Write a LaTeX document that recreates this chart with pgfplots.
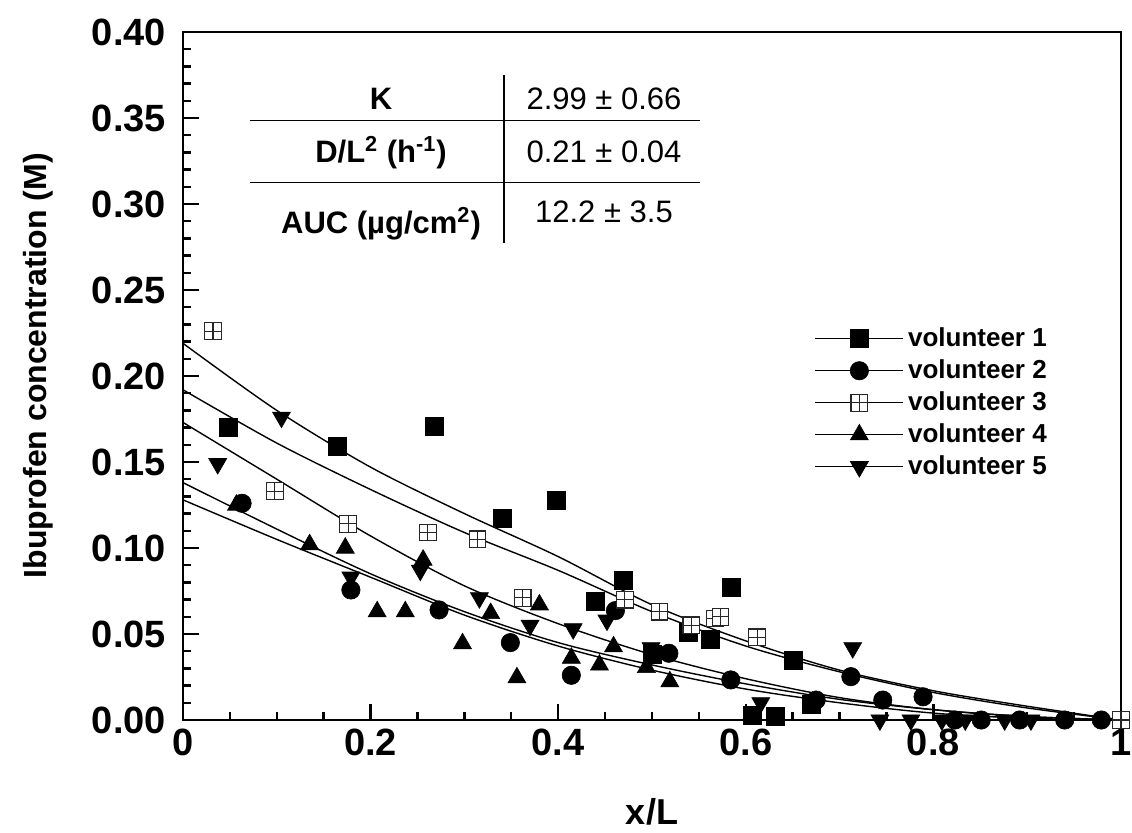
\documentclass[border=0pt]{standalone}
\usepackage{fontspec}
\setmainfont{Liberation Sans}
\usepackage{pgfplots}
\pgfplotsset{compat=1.18}

\pgfdeclareplotmark{boxplus}{%
  \pgfpathrectangle{\pgfqpoint{-\pgfplotmarksize}{-\pgfplotmarksize}}{\pgfqpoint{2\pgfplotmarksize}{2\pgfplotmarksize}}%
  \pgfusepathqfillstroke
  \pgfpathmoveto{\pgfqpoint{-\pgfplotmarksize}{0pt}}\pgfpathlineto{\pgfqpoint{\pgfplotmarksize}{0pt}}%
  \pgfpathmoveto{\pgfqpoint{0pt}{-\pgfplotmarksize}}\pgfpathlineto{\pgfqpoint{0pt}{\pgfplotmarksize}}%
  \pgfusepathqstroke
}

\pgfplotsset{
  v1/.style={only marks, mark=square*, mark size=4.5pt, mark options={black, fill=black, line width=0.3pt}},
  v2/.style={only marks, mark=*, mark size=4.6pt, mark options={black, fill=black, line width=0.3pt}},
  v3/.style={only marks, mark=boxplus, mark size=4.2pt, mark options={draw=black!85, fill=white, line width=0.55pt}},
  v4/.style={only marks, mark=triangle*, mark size=5.2pt, mark options={black, fill=black, line width=0.3pt}},
  v5/.style={only marks, mark=triangle*, mark size=5.2pt, mark options={black, fill=black, line width=0.3pt, rotate=180}},
  fit/.style={black, line width=0.7pt, smooth, no marks, forget plot},
}

\begin{document}
\begin{tikzpicture}[x=1pt,y=1pt]
\path[use as bounding box] (-91.5,-56) rectangle (474.5,360);
\begin{axis}[
  at={(0,0)}, anchor=south west,
  scale only axis, width=469pt, height=344pt,
  xmin=0, xmax=1, ymin=0, ymax=0.4,
  xtick={0,0.2,0.4,0.6,0.8,1},
  xticklabels={0,0.2,0.4,0.6,0.8,1},
  ytick={0,0.05,0.1,0.15,0.2,0.25,0.3,0.35,0.4},
  yticklabels={0.00,0.05,0.10,0.15,0.20,0.25,0.30,0.35,0.40},
  minor x tick num=3, minor y tick num=4,
  tick align=inside, xtick pos=bottom, ytick pos=left,
  major tick length=8pt, minor tick length=4pt,
  tick style={black, line width=1.2pt},
  axis line style={line width=1.4pt},
  tick label style={font=\fontsize{19}{22}\selectfont\bfseries},
  yticklabel style={xshift=-5pt},
  xticklabel style={yshift=-1pt},
  xlabel={x/L},
  xlabel style={font=\fontsize{18}{20}\selectfont\bfseries, at={(axis description cs:0.5,-0.134)}, anchor=center},
  ylabel={Ibuprofen concentration (M)},
  ylabel style={font=\fontsize{16}{18}\selectfont\bfseries, at={(axis description cs:-0.1546,0.515)}, anchor=center},
  legend style={at={(axis description cs:0.673,0.578)}, anchor=north west, draw=none, fill=none,
    inner sep=0pt, font=\fontsize{13}{15}\selectfont\bfseries,
    nodes={inner sep=2pt, text height=10pt, text depth=2pt},
    legend cell align=left},
  legend image code/.code={\draw[mark repeat=2,mark phase=2,#1] plot coordinates {(0pt,0pt) (22pt,0pt) (44pt,0pt)};},
  clip=false,
]
% fitted curves
\addplot[fit] coordinates {(0,0.219) (0.1,0.180) (0.2,0.147) (0.3,0.120) (0.4,0.095) (0.5,0.067) (0.6,0.046) (0.7,0.029) (0.8,0.017) (0.9,0.008) (1,0)};
\addplot[fit] coordinates {(0,0.192) (0.1,0.161) (0.2,0.134) (0.3,0.109) (0.4,0.087) (0.5,0.063) (0.6,0.043) (0.7,0.028) (0.8,0.016) (0.9,0.007) (1,0)};
\addplot[fit] coordinates {(0,0.173) (0.1,0.140) (0.2,0.107) (0.3,0.078) (0.4,0.056) (0.5,0.038) (0.6,0.024) (0.7,0.013) (0.8,0.006) (0.9,0.002) (1,0)};
\addplot[fit] coordinates {(0,0.138) (0.1,0.111) (0.2,0.085) (0.3,0.063) (0.4,0.045) (0.5,0.032) (0.6,0.021) (0.7,0.012) (0.8,0.006) (0.9,0.002) (1,0)};
\addplot[fit] coordinates {(0,0.128) (0.1,0.105) (0.2,0.083) (0.3,0.061) (0.4,0.043) (0.5,0.029) (0.6,0.018) (0.7,0.010) (0.8,0.004) (0.9,0.001) (1,0)};
% volunteer data
\addplot[v1, forget plot] coordinates {(0.048,0.170) (0.164,0.159) (0.268,0.171) (0.340,0.117) (0.398,0.128) (0.440,0.069) (0.469,0.081) (0.500,0.038) (0.539,0.051) (0.562,0.047) (0.585,0.077) (0.607,0.003) (0.631,0.002) (0.651,0.035) (0.670,0.009)};
\addplot[v2, forget plot] coordinates {(0.063,0.126) (0.179,0.0756) (0.273,0.064) (0.349,0.045) (0.414,0.026) (0.461,0.0636) (0.518,0.0388) (0.584,0.0233) (0.675,0.0116) (0.712,0.0252) (0.746,0.0116) (0.789,0.0135) (0.823,0) (0.851,0) (0.892,0) (0.940,0) (0.979,0)};
\addplot[v3, forget plot] coordinates {(0.032,0.226) (0.098,0.133) (0.176,0.114) (0.261,0.109) (0.314,0.105) (0.362,0.071) (0.471,0.070) (0.508,0.063) (0.542,0.055) (0.567,0.059) (0.573,0.060) (0.612,0.048) (1.0,0)};
\addplot[v4, forget plot] coordinates {(0.057,0.125) (0.135,0.102) (0.173,0.100) (0.207,0.063) (0.237,0.063) (0.256,0.093) (0.298,0.0444) (0.328,0.062) (0.356,0.0246) (0.380,0.067) (0.414,0.036) (0.444,0.032) (0.459,0.0426) (0.494,0.0306) (0.519,0.0223)};
\addplot[v5, forget plot] coordinates {(0.037,0.149) (0.105,0.176) (0.179,0.083) (0.253,0.087) (0.316,0.071) (0.370,0.055) (0.416,0.053) (0.452,0.058) (0.499,0.042) (0.616,0.010) (0.714,0.042) (0.743,0) (0.776,0) (0.809,0) (0.834,0) (0.876,0) (0.904,0)};
% legend
\addlegendimage{black, line width=0.7pt, mark=square*, mark size=4.5pt, mark options={fill=black, line width=0.3pt}}
\addlegendentry{volunteer 1}
\addlegendimage{black, line width=0.7pt, mark=*, mark size=4.6pt, mark options={fill=black, line width=0.3pt}}
\addlegendentry{volunteer 2}
\addlegendimage{black, line width=0.7pt, mark=boxplus, mark size=4.2pt, mark options={draw=black!85, fill=white, line width=0.55pt}}
\addlegendentry{volunteer 3}
\addlegendimage{black, line width=0.7pt, mark=triangle*, mark size=5.2pt, mark options={fill=black, line width=0.3pt}}
\addlegendentry{volunteer 4}
\addlegendimage{black, line width=0.7pt, mark=triangle*, mark size=5.2pt, mark options={fill=black, line width=0.3pt, rotate=180}}
\addlegendentry{volunteer 5}
% parameter table
\draw[line width=0.9pt] (axis cs:0.342,0.375) -- (axis cs:0.342,0.2773);
\draw[line width=0.9pt] (axis cs:0.0714,0.3486) -- (axis cs:0.551,0.3486);
\draw[line width=0.9pt] (axis cs:0.0714,0.3125) -- (axis cs:0.551,0.3125);
\node[anchor=base, font=\fontsize{15.5}{18}\selectfont\bfseries] at (axis cs:0.2111,0.3547) {K};
\node[anchor=base, font=\fontsize{15.5}{18}\selectfont\bfseries] at (axis cs:0.2111,0.3244) {D/L\textsuperscript{2} (h\textsuperscript{-1})};
\node[anchor=base, font=\fontsize{15.5}{18}\selectfont\bfseries] at (axis cs:0.2111,0.2831) {AUC (µg/cm\textsuperscript{2})};
\node[anchor=base, font=\fontsize{15.5}{18}\selectfont] at (axis cs:0.4488,0.3547) {2.99 ± 0.66};
\node[anchor=base, font=\fontsize{15.5}{18}\selectfont] at (axis cs:0.4488,0.3244) {0.21 ± 0.04};
\node[anchor=base, font=\fontsize{15.5}{18}\selectfont] at (axis cs:0.4488,0.2890) {12.2 ± 3.5};
\end{axis}
\end{tikzpicture}
\end{document}
